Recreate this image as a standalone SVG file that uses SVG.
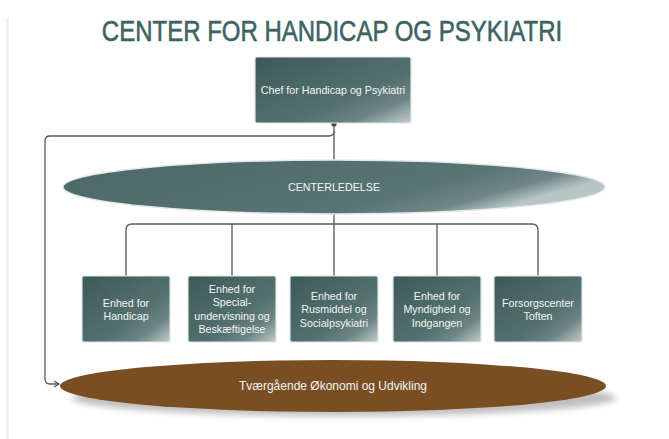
<svg xmlns="http://www.w3.org/2000/svg" width="669" height="439" viewBox="0 0 669 439">
<defs>
<style>
.lbl{font-family:"Liberation Sans",Arial,sans-serif;font-size:10.7px;fill:#f2f5f5;text-anchor:middle}
.box{fill:url(#gBox);stroke:#dde5ea;stroke-width:1.2}
.con{fill:none;stroke:#4d5c5c;stroke-width:1.3}
</style>
<linearGradient id="gBox" x1="0" y1="0" x2="1" y2="1">
<stop offset="0" stop-color="#3c5a59"/>
<stop offset="0.62" stop-color="#55716f"/>
<stop offset="0.8" stop-color="#6d8584"/>
<stop offset="1" stop-color="#c3cecd"/>
</linearGradient>
<linearGradient id="gEll" x1="0" y1="0" x2="1" y2="0.35">
<stop offset="0" stop-color="#4a6866"/>
<stop offset="0.75" stop-color="#587473"/>
<stop offset="0.9" stop-color="#6f8786"/>
<stop offset="1" stop-color="#b8c5c5"/>
</linearGradient>
<filter id="blur" x="-10%" y="-50%" width="120%" height="200%"><feGaussianBlur stdDeviation="3"/></filter>
<marker id="arr" markerWidth="8" markerHeight="8" refX="6" refY="4" orient="auto" markerUnits="userSpaceOnUse">
<path d="M1,1 L6,4 L1,7" fill="none" stroke="#4d5c5c" stroke-width="1.3"/>
</marker>
</defs>
<rect width="669" height="439" fill="#ffffff"/>
<rect x="6" y="18" width="3" height="421" fill="#eef1f5"/>
<g transform="translate(332,41) scale(0.8,1)">
<text x="0" y="0" font-family="Liberation Sans, Arial, sans-serif" font-size="30" fill="#3e6462" stroke="#3e6462" stroke-width="0.6" text-anchor="middle">CENTER FOR HANDICAP OG PSYKIATRI</text>
</g>

<g id="connectors">
<path class="con" d="M334,124 V160"/>
<path class="con" d="M334,131 Q334,136 329,136 H50 Q45,136 45,141 V379 Q45,384 50,384 H59" marker-end="url(#arr)"/>
<path class="con" d="M334,214 V276"/>
<path class="con" d="M126,276 V230 Q126,224 132,224 H532 Q538,224 538,230 V276"/>
<path class="con" d="M232,224 V276"/>
<path class="con" d="M437,224 V276"/>
<circle cx="334" cy="124" r="2.6" fill="#3f4f4f"/>
</g>

<g id="chef">
<rect class="box" x="255" y="57" width="156" height="66" rx="2"/>
<text class="lbl" x="333" y="94">Chef for Handicap og Psykiatri</text>
</g>

<g id="centerledelse">
<ellipse cx="334" cy="187" rx="271" ry="27" fill="url(#gEll)" stroke="#e2e8ec" stroke-width="1.5"/>
<text class="lbl" x="334" y="191">CENTERLEDELSE</text>
</g>

<g id="enhed-handicap">
<rect class="box" x="82" y="276" width="88" height="66" rx="2"/>
<text class="lbl" x="126" y="306.5">Enhed for</text>
<text class="lbl" x="126" y="319.5">Handicap</text>
</g>

<g id="enhed-special">
<rect class="box" x="188" y="276" width="88" height="66" rx="2"/>
<text class="lbl" x="232" y="293">Enhed for</text>
<text class="lbl" x="232" y="306">Special-</text>
<text class="lbl" x="232" y="319.5">undervisning og</text>
<text class="lbl" x="232" y="333">Beskæftigelse</text>
</g>

<g id="enhed-rusmiddel">
<rect class="box" x="290" y="276" width="88" height="66" rx="2"/>
<text class="lbl" x="334" y="300">Enhed for</text>
<text class="lbl" x="334" y="313">Rusmiddel og</text>
<text class="lbl" x="334" y="326.5">Socialpsykiatri</text>
</g>

<g id="enhed-myndighed">
<rect class="box" x="393" y="276" width="88" height="66" rx="2"/>
<text class="lbl" x="437" y="300">Enhed for</text>
<text class="lbl" x="437" y="313">Myndighed og</text>
<text class="lbl" x="437" y="326.5">Indgangen</text>
</g>

<g id="forsorgscenter">
<rect class="box" x="494" y="276" width="88" height="66" rx="2"/>
<text class="lbl" x="538" y="306.5">Forsorgscenter</text>
<text class="lbl" x="538" y="319.5">Toften</text>
</g>

<g id="tvaergaaende">
<ellipse cx="344" cy="398" rx="272" ry="18" fill="#8a8a8a" opacity="0.55" filter="url(#blur)"/>
<ellipse cx="333" cy="386" rx="273" ry="26" fill="#7a4e23"/>
<text class="lbl" x="333" y="390" style="font-size:12px">Tværgående Økonomi og Udvikling</text>
</g>
</svg>
